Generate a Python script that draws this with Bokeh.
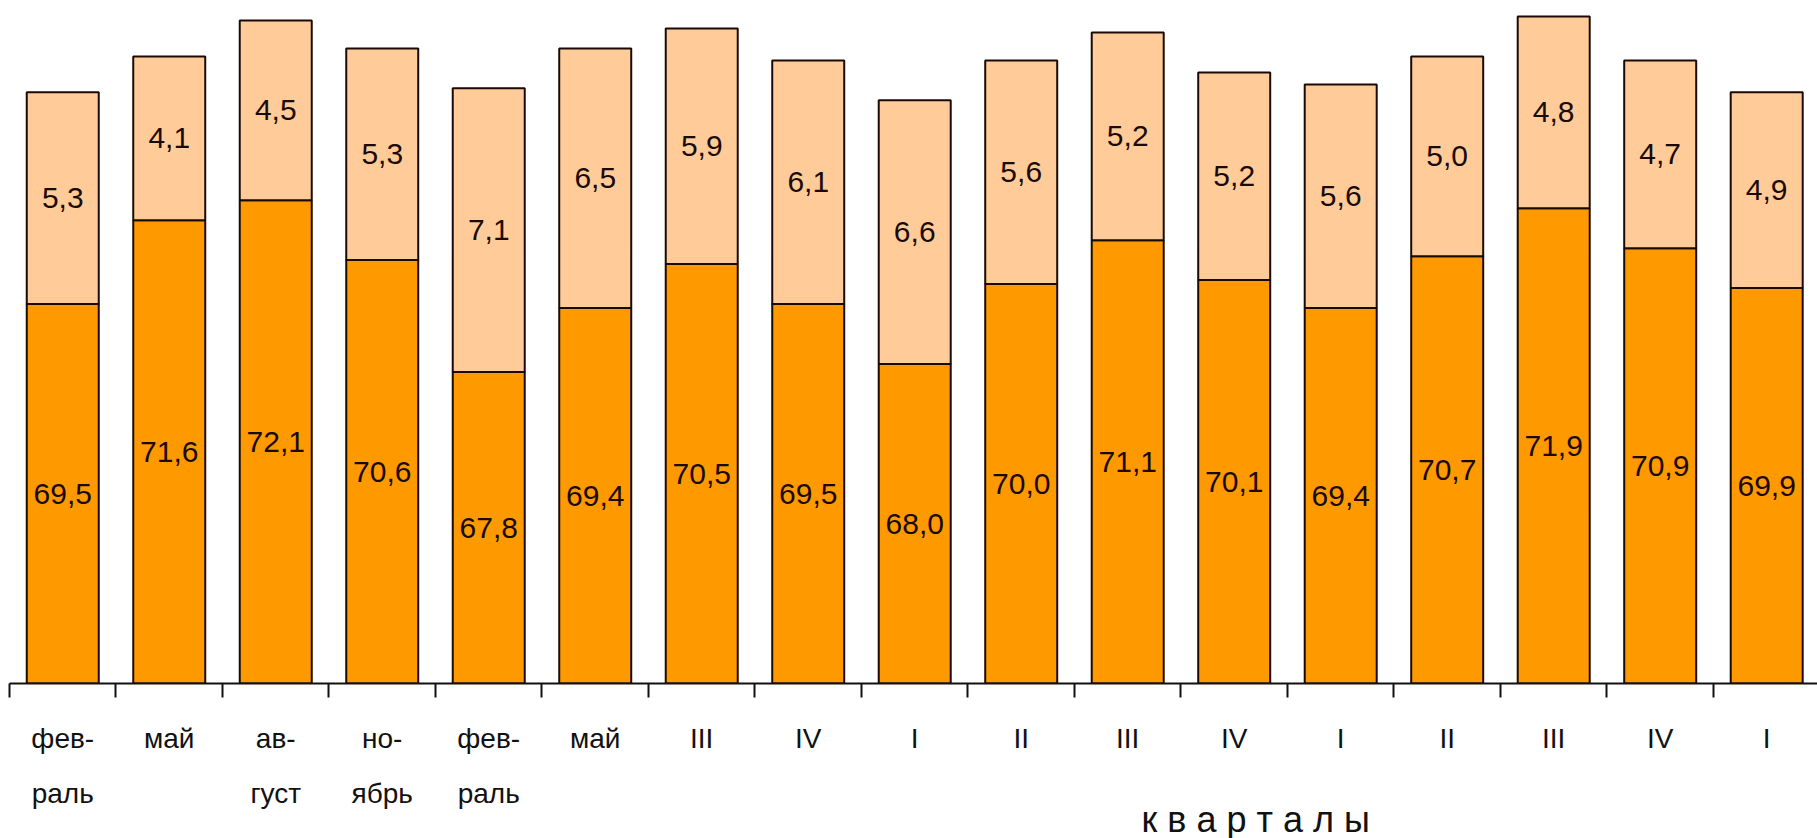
from bokeh.plotting import figure
from bokeh.models import Range1d, FixedTicker, LinearAxis, ColumnDataSource, LabelSet, Title
from bokeh.core.properties import value
from bokeh.embed import file_html
from bokeh.resources import INLINE

# ---- data ----
categories = ["фев-\nраль", "май", "ав-\nгуст", "но-\nябрь", "фев-\nраль", "май",
              "III", "IV", "I", "II", "III", "IV", "I", "II", "III", "IV", "I"]
lower_values = [69.5, 71.6, 72.1, 70.6, 67.8, 69.4, 70.5, 69.5, 68.0, 70.0,
                71.1, 70.1, 69.4, 70.7, 71.9, 70.9, 69.9]
upper_values = [5.3, 4.1, 4.5, 5.3, 7.1, 6.5, 5.9, 6.1, 6.6, 5.6,
                5.2, 5.2, 5.6, 5.0, 4.8, 4.7, 4.9]
axis_title = "к в а р т а л ы"

n = len(categories)
xs = [i + 0.5 for i in range(n)]
fmt = lambda v: f"{v:.1f}".replace(".", ",")

src = ColumnDataSource(dict(
    x=xs,
    lower=lower_values,
    upper=upper_values,
    lower_mid=[60 + (lv - 60) / 2 for lv in lower_values],
    upper_mid=[lv + uv / 2 for lv, uv in zip(lower_values, upper_values)],
    lower_txt=[fmt(v) for v in lower_values],
    upper_txt=[fmt(v) for v in upper_values],
))

FONT = "Liberation Sans"
INK = "#1a0a05"

p = figure(frame_width=1808, frame_height=683,
           x_range=Range1d(0, 16.977), y_range=Range1d(60, 77.1),
           output_backend="svg", toolbar_location=None,
           x_axis_location=None, y_axis_location=None,
           min_border_left=9, min_border_right=0, min_border_top=0, min_border_bottom=155)
p.outline_line_color = None
p.xgrid.visible = False
p.ygrid.visible = False
p.background_fill_color = "white"
p.border_fill_color = "white"

p.vbar_stack(["lower", "upper"], x="x", width=0.676, source=src,
             fill_color=["#FF9900", "#FFCC99"], line_color=INK, line_width=2)

for ycol, tcol in (("lower_mid", "lower_txt"), ("upper_mid", "upper_txt")):
    p.add_layout(LabelSet(x="x", y=ycol, text=tcol, source=src,
                          text_align="center", text_baseline="middle",
                          text_font=value(FONT), text_font_size="30px",
                          text_color=INK))

ax = LinearAxis(ticker=FixedTicker(ticks=xs, minor_ticks=list(range(n + 1))))
ax.major_label_overrides = {x: c for x, c in zip(xs, categories)}
ax.major_tick_in = 0
ax.major_tick_out = 0
ax.minor_tick_in = 0
ax.minor_tick_out = 14
ax.minor_tick_line_width = 2
ax.minor_tick_line_color = "#111111"
ax.axis_line_width = 2
ax.axis_line_color = "#111111"
ax.major_label_standoff = 25
ax.major_label_text_font = FONT
ax.major_label_text_font_size = "28px"
ax.major_label_text_color = "#111111"
ax.major_label_text_line_height = 1.79
p.add_layout(ax, "below")

t = Title(text=axis_title, align="left", offset=1132, standoff=-30,
          text_font=FONT, text_font_size="36px", text_font_style="normal",
          text_color="#111111")
p.add_layout(t, "below")

open("out.html", "w").write(file_html(p, INLINE))
